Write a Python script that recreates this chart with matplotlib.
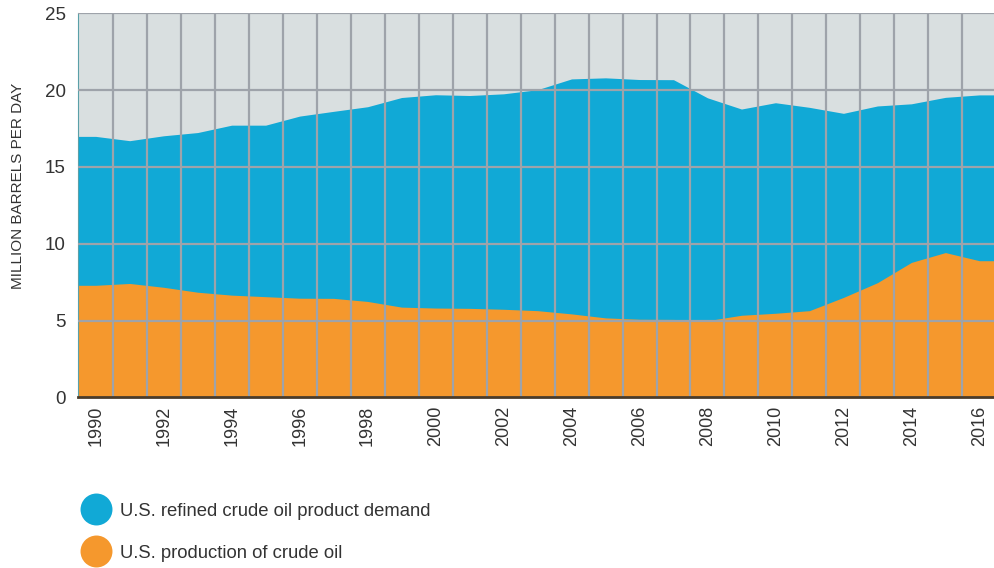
import numpy as np
import matplotlib.pyplot as plt
from matplotlib.lines import Line2D

plt.rcParams['font.family'] = ['Liberation Sans', 'DejaVu Sans']

# Dados (milhões de barris por dia)
anos = list(range(1990, 2017))
demanda = [16.99, 16.71, 17.03, 17.24, 17.72, 17.72, 18.31, 18.62, 18.92, 19.52,
           19.70, 19.65, 19.76, 20.03, 20.73, 20.80, 20.69, 20.68, 19.50, 18.77,
           19.18, 18.88, 18.49, 18.97, 19.11, 19.53, 19.69]
producao = [7.30, 7.42, 7.17, 6.85, 6.66, 6.56, 6.46, 6.45, 6.25, 5.88,
            5.82, 5.80, 5.74, 5.65, 5.44, 5.18, 5.09, 5.08, 5.00, 5.35,
            5.48, 5.65, 6.51, 7.47, 8.79, 9.43, 8.90]
rotulos_x = [str(a) for a in anos[::2]]

cor_demanda = '#11a9d6'
cor_producao = '#f5982d'
cor_fundo = '#d9dfe0'
cor_grade = '#9ea3aa'

fig = plt.figure(figsize=(9.94, 5.68), dpi=100)
ax = fig.add_axes([0.0785, 0.3002, 0.9215, 0.6764])
ax.set_facecolor(cor_fundo)

x0, x1 = 1989.48, 2016.43
# estende o primeiro/último valor até as bordas do gráfico
x = np.r_[x0, anos, x1]
d = np.r_[demanda[0], demanda, demanda[-1]]
p = np.r_[producao[0], producao, producao[-1]]

ax.fill_between(x, 0, d, color=cor_demanda, lw=0, zorder=1)
ax.fill_between(x, 0, p, color=cor_producao, lw=0, zorder=2)

# grade
for xv in np.arange(1990.5, 2016.5, 1):
    ax.axvline(xv, color=cor_grade, lw=1.6, zorder=3)
for yv in [5, 10, 15, 20, 25]:
    ax.axhline(yv, color=cor_grade, lw=1.6, zorder=3)

ax.set_xlim(x0, x1)
ax.set_ylim(0, 25)
ax.set_xticks(anos[::2])
ax.set_xticklabels(rotulos_x, rotation=90, fontsize=13, color='#333333')
ax.set_yticks([0, 5, 10, 15, 20, 25])
ax.set_yticklabels(['0', '5', '10', '15', '20', '25'], fontsize=13.5, color='#333333')
ax.tick_params(length=0, pad=9)
ax.tick_params(axis='x', pad=6)

for s in ['top', 'right']:
    ax.spines[s].set_visible(False)
ax.spines['left'].set_color('#5aa0a8')
ax.spines['left'].set_linewidth(0.8)
ax.spines['bottom'].set_color('#4a3b2a')
ax.spines['bottom'].set_linewidth(2)
ax.spines['bottom'].set_zorder(4)

ax.set_ylabel('MILLION BARRELS PER DAY', fontsize=11, color='#333333')
ax.yaxis.set_label_coords(-0.058, 0.55)

handles = [Line2D([], [], marker='o', ls='', markersize=23, markerfacecolor=cor_demanda, markeredgewidth=0),
           Line2D([], [], marker='o', ls='', markersize=23, markerfacecolor=cor_producao, markeredgewidth=0)]
fig.legend(handles, ['U.S. refined crude oil product demand', 'U.S. production of crude oil'],
           loc='upper left', bbox_to_anchor=(0.0705, 0.128), frameon=False, fontsize=13.3,
           labelcolor='#333333', handletextpad=0.3, labelspacing=1.36, borderaxespad=0)

fig.savefig('out.png', dpi=100)
